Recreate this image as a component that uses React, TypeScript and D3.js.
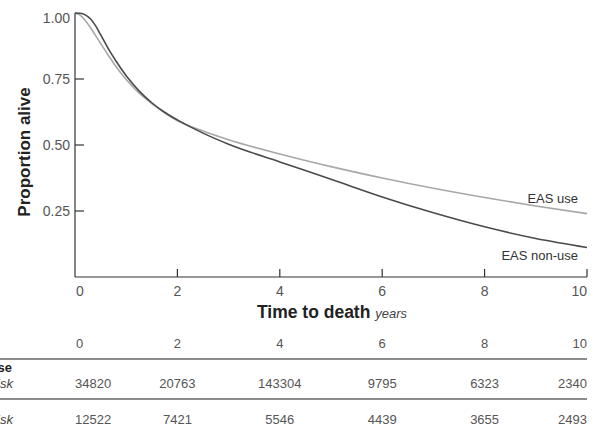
import React, { useEffect, useRef } from 'react';
import * as d3 from 'd3';

// survival estimates
const times = [0, 0.1, 0.2, 0.3, 0.4, 0.5, 0.65, 0.8, 1, 1.25, 1.5, 1.75, 2, 2.5, 3, 4, 5, 6, 7, 8, 9, 10];
const nonUse = [1.0, 0.999, 0.993, 0.978, 0.952, 0.918, 0.865, 0.818, 0.762, 0.705, 0.66, 0.624, 0.595, 0.545, 0.503, 0.436, 0.37, 0.303, 0.243, 0.19, 0.146, 0.112];
const use = [1.0, 0.992, 0.972, 0.945, 0.915, 0.885, 0.84, 0.797, 0.748, 0.697, 0.657, 0.622, 0.592, 0.553, 0.52, 0.466, 0.418, 0.375, 0.336, 0.301, 0.269, 0.24];

const xTicks = [0, 2, 4, 6, 8, 10];
const yTicks = [0.25, 0.5, 0.75, 1.0];
const atRiskUse = [34820, 20763, 143304, 9795, 6323, 2340];
const atRiskNonUse = [12522, 7421, 5546, 4439, 3655, 2493];

const App = () => {
  const ref = useRef<SVGSVGElement>(null);

  useEffect(() => {
    const svg = d3.select(ref.current);
    svg.selectAll('*').remove();
    const font = '"Liberation Sans", Arial, sans-serif';

    const x = d3.scaleLinear().domain([0, 10]).range([75, 587]);
    const y = d3.scaleLinear().domain([0, 1]).range([277, 13]);

    const line = d3.line<number>()
      .x((d, i) => x(times[i]))
      .y(d => y(d))
      .curve(d3.curveMonotoneX);

    // curves
    svg.append('path').attr('d', line(use)).attr('fill', 'none')
      .attr('stroke', '#a8a8a8').attr('stroke-width', 1.6);
    svg.append('path').attr('d', line(nonUse)).attr('fill', 'none')
      .attr('stroke', '#4a4a4a').attr('stroke-width', 1.6);

    // axes
    const axisColor = '#333';
    svg.append('line').attr('x1', 75).attr('x2', 75).attr('y1', 13).attr('y2', 277)
      .attr('stroke', axisColor).attr('stroke-width', 1.2);
    svg.append('line').attr('x1', 75).attr('x2', 587).attr('y1', 277).attr('y2', 277)
      .attr('stroke', axisColor).attr('stroke-width', 1.2);

    yTicks.forEach(t => {
      if (t < 1) {
        svg.append('line').attr('x1', 75).attr('x2', 84).attr('y1', y(t)).attr('y2', y(t))
          .attr('stroke', axisColor).attr('stroke-width', 1.2);
      }
      svg.append('text').attr('x', 70).attr('y', t === 1 ? 18 : y(t))
        .attr('dy', '0.35em').attr('text-anchor', 'end')
        .style('font-family', font).style('font-size', '14px').attr('fill', '#555')
        .text(d3.format('.2f')(t));
    });

    const anchorFor = (i: number) => (i === 0 ? 'start' : i === xTicks.length - 1 ? 'end' : 'middle');

    xTicks.forEach((t, i) => {
      if (t > 0) {
        svg.append('line').attr('x1', x(t)).attr('x2', x(t)).attr('y1', 277).attr('y2', 269)
          .attr('stroke', axisColor).attr('stroke-width', 1.2);
      }
      svg.append('text').attr('x', x(t) + (i === 0 ? 1 : 0)).attr('y', 291).attr('dy', '0.35em')
        .attr('text-anchor', anchorFor(i))
        .style('font-family', font).style('font-size', '14px').attr('fill', '#555')
        .text(t);
    });

    // axis titles
    svg.append('text')
      .attr('transform', 'translate(30,152) rotate(-90)')
      .attr('text-anchor', 'middle')
      .style('font-family', font).style('font-size', '17px').style('font-weight', 'bold')
      .attr('fill', '#222').text('Proportion alive');

    const xt = svg.append('text').attr('x', 332).attr('y', 318).attr('text-anchor', 'middle')
      .style('font-family', font).attr('fill', '#222');
    xt.append('tspan').style('font-size', '17.5px').style('font-weight', 'bold').text('Time to death ');
    xt.append('tspan').style('font-size', '13px').style('font-style', 'italic').attr('fill', '#444').text('years');

    // series labels
    svg.append('text').attr('x', 578).attr('y', 203).attr('text-anchor', 'end')
      .style('font-family', font).style('font-size', '13px').attr('fill', '#333').text('EAS use');
    svg.append('text').attr('x', 578).attr('y', 260).attr('text-anchor', 'end')
      .style('font-family', font).style('font-size', '13px').attr('fill', '#333').text('EAS non-use');

    // at-risk table
    xTicks.forEach((t, i) => {
      svg.append('text').attr('x', x(t) + (i === 0 ? 1 : 0)).attr('y', 343).attr('dy', '0.35em')
        .attr('text-anchor', anchorFor(i))
        .style('font-family', font).style('font-size', '13px').attr('fill', '#555').text(t);
    });
    [359, 399].forEach(ly => {
      svg.append('line').attr('x1', 0).attr('x2', 587).attr('y1', ly).attr('y2', ly)
        .attr('stroke', '#666').attr('stroke-width', 1.3);
    });

    svg.append('text').attr('x', 12).attr('y', 372).attr('text-anchor', 'end')
      .style('font-family', font).style('font-size', '13px').style('font-weight', 'bold')
      .attr('fill', '#222').text('EAS use');
    [383, 419].forEach(ry => {
      svg.append('text').attr('x', 13).attr('y', ry).attr('dy', '0.35em').attr('text-anchor', 'end')
        .style('font-family', font).style('font-size', '13px').style('font-style', 'italic')
        .attr('fill', '#444').text('At risk');
    });

    const rows: [number[], number][] = [[atRiskUse, 383], [atRiskNonUse, 419]];
    rows.forEach(([vals, ry]) => {
      vals.forEach((v, i) => {
        svg.append('text').attr('x', x(xTicks[i])).attr('y', ry).attr('dy', '0.35em')
          .attr('text-anchor', anchorFor(i))
          .style('font-family', font).style('font-size', '13px').attr('fill', '#555').text(v);
      });
    });
  }, []);

  return (
    <svg ref={ref} width={599} height={429}
      style={{ position: 'absolute', left: 0, top: 0, background: '#fff' }} />
  );
};

export default App;
